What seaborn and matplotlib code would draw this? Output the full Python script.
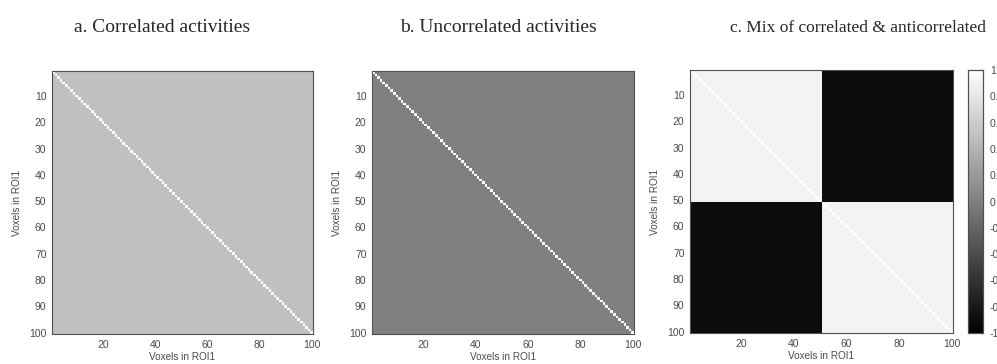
import numpy as np
import pandas as pd
import seaborn as sns
import matplotlib.pyplot as plt

# --- data ---------------------------------------------------------------
n_voxels = 100
roi_split = 50                      # first half vs second half of ROI1 in panel c
corr_a = 0.5                        # correlated activities
corr_b = 0.0                        # uncorrelated activities
corr_c_same = 0.9                   # within-group correlation (panel c)
corr_c_cross = -0.9                 # between-group anticorrelation (panel c)
diag_value = 1.0

titles = ["a. Correlated activities",
          "b. Uncorrelated activities",
          "c. Mix of correlated & anticorrelated"]
x_ticks = [20, 40, 60, 80, 100]
y_ticks = [10, 20, 30, 40, 50, 60, 70, 80, 90, 100]
cbar_ticks = [1, 0.8, 0.6, 0.4, 0.2, 0, -0.2, -0.4, -0.6, -0.8, -1]
axis_label = "Voxels in ROI1"


def corr_matrix(off_value):
    m = np.full((n_voxels, n_voxels), off_value, dtype=float)
    np.fill_diagonal(m, diag_value)
    return pd.DataFrame(m, index=range(1, n_voxels + 1), columns=range(1, n_voxels + 1))


mat_a = corr_matrix(corr_a)
mat_b = corr_matrix(corr_b)
group = np.arange(n_voxels) < roi_split
m_c = np.where(group[:, None] == group[None, :], corr_c_same, corr_c_cross)
np.fill_diagonal(m_c, diag_value)
mat_c = pd.DataFrame(m_c, index=range(1, n_voxels + 1), columns=range(1, n_voxels + 1))

# --- figure -------------------------------------------------------------
sns.set_style("white")
plt.rcParams['font.family'] = ['Liberation Sans', 'DejaVu Sans']

W, H = 997, 364
fig = plt.figure(figsize=(W / 100, H / 100), dpi=100)


def box(x0, y0, x1, y1):
    # pixel box -> figure fraction [left, bottom, width, height]
    return [x0 / W, 1 - y1 / H, (x1 - x0) / W, (y1 - y0) / H]


axes_boxes = [box(52, 71, 313, 334), box(372, 71, 634, 334), box(690, 70, 953, 333)]
title_x = [162, 498, 858]
title_size = [14, 14, 12.5]
cbar_ax = fig.add_axes(box(968, 70, 983, 333))

tick_col = '#4a4a4a'
for i, (mat, bx) in enumerate(zip([mat_a, mat_b, mat_c], axes_boxes)):
    ax = fig.add_axes(bx)
    sns.heatmap(mat, ax=ax, cmap='gray', vmin=-1, vmax=1,
                xticklabels=False, yticklabels=False,
                cbar=(i == 2), cbar_ax=cbar_ax if i == 2 else None,
                rasterized=True)
    ax.set_xticks([t - 0.5 for t in x_ticks])
    ax.set_xticklabels([str(t) for t in x_ticks])
    ax.set_yticks([t - 0.5 for t in y_ticks])
    ax.set_yticklabels([str(t) for t in y_ticks], rotation=0)
    ax.tick_params(direction='in', length=3, width=0.8, color='#303030',
                   labelsize=7.5, labelcolor=tick_col, top=True, right=True,
                   pad=4)
    for s in ax.spines.values():
        s.set_visible(True)
        s.set_color('#505050')
        s.set_linewidth(0.8)
    ax.set_xlabel(axis_label, fontsize=7.2, color=tick_col, labelpad=2)
    ax.set_ylabel(axis_label, fontsize=7.2, color=tick_col, labelpad=5)
    fig.text(title_x[i] / W, 1 - 28 / H, titles[i], ha='center', va='center',
             fontsize=title_size[i], family=['Liberation Serif', 'DejaVu Serif'])

cbar_ax.set_yticks(cbar_ticks)
cbar_ax.set_yticklabels([f"{t:g}" for t in cbar_ticks])
cbar_ax.tick_params(direction='in', length=2, width=0.8, labelsize=7.5,
                    labelcolor=tick_col, color='#303030', pad=5)
for s in cbar_ax.spines.values():
    s.set_visible(True)
    s.set_color('#505050')
    s.set_linewidth(0.8)

fig.savefig('out.png', dpi=100)
